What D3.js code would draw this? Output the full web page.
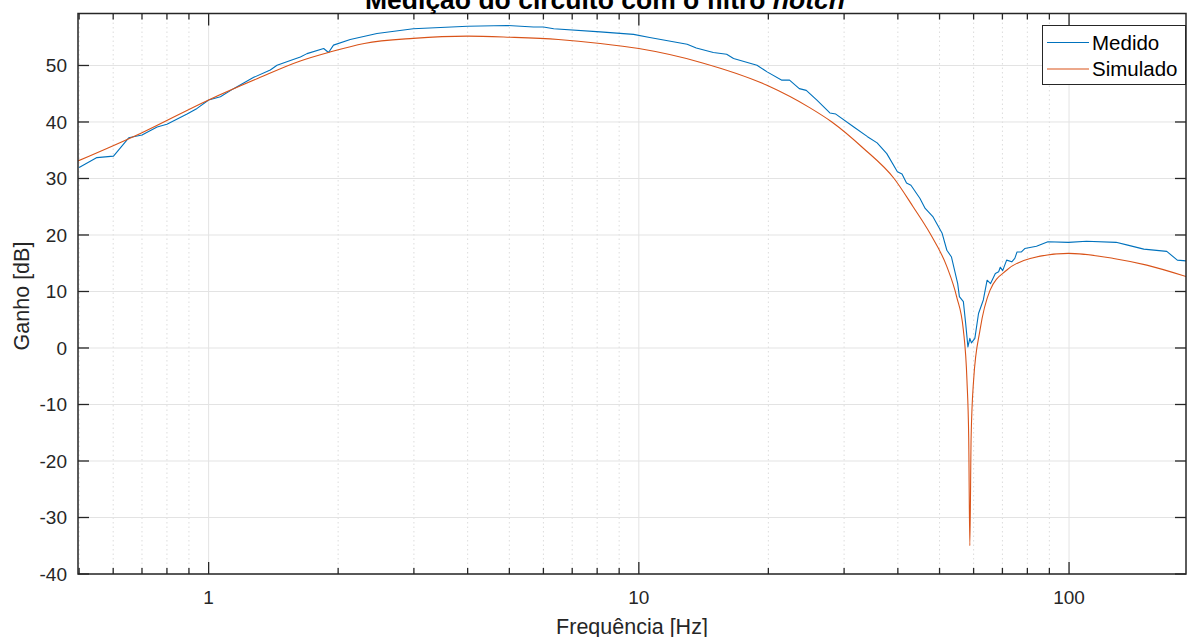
<!DOCTYPE html>
<html>
<head>
<meta charset="utf-8">
<script src="https://cdn.jsdelivr.net/npm/d3@7"></script>
<style>
  body { margin: 0; background: #fff; }
  svg { display: block; font-family: "Liberation Sans", Arial, sans-serif; }
</style>
</head>
<body>
<svg id="chart" width="1187" height="637"></svg>
<script>
// values
const medidoFreq = [0.5, 0.55, 0.601, 0.652, 0.7, 0.759, 0.8, 0.891, 0.94, 1.0, 1.065, 1.143, 1.273, 1.391, 1.442, 1.549, 1.634,
  1.693, 1.851, 1.9, 1.951, 2.134, 2.462, 2.99, 4.0, 4.94, 5.69, 6.0, 6.34, 8.13, 9.72, 10.6, 12.95, 13.6, 14.9, 16.0, 16.6,
  18.82, 19.87, 21.5, 22.4, 23.6, 24.5, 25.9, 27.8, 28.7, 31.6, 34.0, 35.8, 37.7, 39.9, 40.9, 41.9, 42.9, 45.0, 46.3, 48.3,
  50.7, 52.0, 53.3, 55.1, 55.6, 56.8, 57.5, 58.2, 58.8, 59.3, 60.4, 61.6, 63.2, 64.5, 65.7, 67.4, 68.6, 69.2, 70.1, 71.6,
  73.6, 74.8, 75.7, 77.5, 78.9, 84.0, 89.3, 99.7, 109.8, 128.6, 136.9, 149.2, 168.7, 178.5, 187.8];
const medidoDb = [31.95, 33.7, 33.95, 37.2, 37.7, 39.1, 39.6, 41.4, 42.4, 43.9, 44.45, 45.9, 47.9, 49.2, 50.05, 50.9, 51.5,
  52.1, 53.0, 52.3, 53.6, 54.6, 55.66, 56.5, 56.95, 57.08, 56.8, 56.8, 56.5, 55.95, 55.5, 54.95, 53.77, 53.1, 52.3, 52.0, 51.24,
  50.05, 48.87, 47.4, 47.4, 45.9, 45.6, 43.9, 41.6, 41.4, 39.1, 37.4, 36.3, 34.4, 31.2, 30.8, 29.2, 28.8, 26.5, 24.7, 23.2,
  20.3, 17.3, 16.1, 11.4, 9.1, 8.2, 4.35, 0.2, 1.7, 0.9, 1.7, 6.1, 8.5, 12.0, 11.4, 13.2, 13.5, 14.3, 13.7, 15.55,
  15.25, 15.85, 17.0, 17.0, 17.6, 18.0, 18.8, 18.7, 18.9, 18.7, 18.2, 17.5, 17.1, 15.55, 15.4];

const simuladoFreq = [0.497, 0.7, 1.0, 1.3, 1.633, 1.898, 2.3, 2.99, 4.0, 5.02, 6.5, 8.13, 10.0, 14.0, 19.85, 25.0, 28.1, 33.2,
  39.2, 43.4, 47.5, 52.0, 54.8, 56.8, 57.9, 58.45, 58.8, 59.2, 60.0, 62.1, 65.5, 71.7, 81.2, 99.7, 126.9, 151.6, 187.8];
const simuladoDb = [33.1, 38.1, 43.9, 47.7, 50.8, 52.3, 53.9, 54.8, 55.2, 55.0, 54.6, 53.9, 53.0, 50.5, 46.5, 42.5, 40.0, 35.4,
  30.0, 25.0, 20.3, 14.4, 9.06, 3.17, -5.7, -16.0, -35.0, -16.0, -5.7, 3.2, 10.2, 13.8, 15.85, 16.74, 15.85, 14.67, 12.6];

const seriesNames = ["Medido", "Simulado"];
const seriesColors = ["#0072BD", "#D95319"];
const yTicks = [-40, -30, -20, -10, 0, 10, 20, 30, 40, 50];
const xMajorTicks = [1, 10, 100];
const xMinorTicks = [0.5, 0.6, 0.7, 0.8, 0.9, 2, 3, 4, 5, 6, 7, 8, 9, 20, 30, 40, 50, 60, 70, 80, 90];

const svg = d3.select("#chart");
const pLeft = 78, pRight = 1186, pTop = 13.5, pBottom = 574;
const axisColor = "#262626";

const x = d3.scaleLog().domain([0.497, 187]).range([pLeft, pRight]);
const y = d3.scaleLinear().domain([-40, 59.2]).range([pBottom, pTop]);

// grid
const grid = svg.append("g");
grid.selectAll(".minor").data(xMinorTicks).enter().append("line")
  .attr("x1", d => x(d)).attr("x2", d => x(d)).attr("y1", pTop).attr("y2", pBottom)
  .attr("stroke", "#dcdcdc").attr("stroke-dasharray", "1.5,3").attr("stroke-width", 1);
grid.selectAll(".majx").data(xMajorTicks).enter().append("line")
  .attr("x1", d => x(d)).attr("x2", d => x(d)).attr("y1", pTop).attr("y2", pBottom)
  .attr("stroke", "#e3e3e3").attr("stroke-width", 1);
grid.selectAll(".majy").data(yTicks).enter().append("line")
  .attr("x1", pLeft).attr("x2", pRight).attr("y1", d => y(d)).attr("y2", d => y(d))
  .attr("stroke", "#e3e3e3").attr("stroke-width", 1);

// lines
svg.append("clipPath").attr("id", "clip").append("rect")
  .attr("x", pLeft).attr("y", pTop).attr("width", pRight - pLeft).attr("height", pBottom - pTop);

const medido = medidoFreq.map((f, i) => [f, medidoDb[i]]);
const simulado = simuladoFreq.map((f, i) => [f, simuladoDb[i]]);

const lineLin = d3.line().x(d => x(d[0])).y(d => y(d[1]));
const lineSmooth = d3.line().x(d => x(d[0])).y(d => y(d[1])).curve(d3.curveMonotoneX);

const plot = svg.append("g").attr("clip-path", "url(#clip)");
plot.append("path").datum(medido).attr("d", lineLin)
  .attr("fill", "none").attr("stroke", seriesColors[0]).attr("stroke-width", 1.1).attr("stroke-linejoin", "round");
plot.append("path").datum(simulado).attr("d", lineSmooth)
  .attr("fill", "none").attr("stroke", seriesColors[1]).attr("stroke-width", 1.1).attr("stroke-linejoin", "round");

// axes (MATLAB style: inward ticks, box)
const box = svg.append("g");
box.append("rect").attr("x", pLeft).attr("y", pTop).attr("width", pRight - pLeft).attr("height", pBottom - pTop)
  .attr("fill", "none").attr("stroke", axisColor).attr("stroke-width", 1.5);

const tickStyle = sel => sel.attr("stroke", axisColor).attr("stroke-width", 1.3);
xMajorTicks.forEach(d => {
  box.append("line").attr("x1", x(d)).attr("x2", x(d)).attr("y1", pBottom).attr("y2", pBottom - 12).call(tickStyle);
  box.append("line").attr("x1", x(d)).attr("x2", x(d)).attr("y1", pTop).attr("y2", pTop + 12).call(tickStyle);
});
xMinorTicks.forEach(d => {
  box.append("line").attr("x1", x(d)).attr("x2", x(d)).attr("y1", pBottom).attr("y2", pBottom - 6).call(tickStyle);
  box.append("line").attr("x1", x(d)).attr("x2", x(d)).attr("y1", pTop).attr("y2", pTop + 6).call(tickStyle);
});
yTicks.forEach(d => {
  box.append("line").attr("x1", pLeft).attr("x2", pLeft + 11).attr("y1", y(d)).attr("y2", y(d)).call(tickStyle);
  box.append("line").attr("x1", pRight).attr("x2", pRight - 11).attr("y1", y(d)).attr("y2", y(d)).call(tickStyle);
});

svg.append("g").selectAll("text").data(yTicks).enter().append("text")
  .attr("x", 67).attr("y", d => y(d)).attr("dy", "0.36em").attr("text-anchor", "end")
  .attr("font-size", 19).attr("fill", axisColor).text(d => d);
svg.append("g").selectAll("text").data(xMajorTicks).enter().append("text")
  .attr("x", d => x(d)).attr("y", 604).attr("text-anchor", "middle")
  .attr("font-size", 19).attr("fill", axisColor).text(d => d);

// labels
svg.append("text").attr("x", 632).attr("y", 634).attr("text-anchor", "middle")
  .attr("font-size", 21.5).attr("fill", axisColor).text("Frequência [Hz]");
svg.append("text").attr("transform", "translate(29,296) rotate(-90)").attr("text-anchor", "middle")
  .attr("font-size", 21.5).attr("fill", axisColor).text("Ganho [dB]");

const title = svg.append("text").attr("x", 605).attr("y", 8.5).attr("text-anchor", "middle")
  .attr("font-size", 26.5).attr("font-weight", "bold").attr("fill", "#000");
title.append("tspan").text("Medição do circuito com o filtro ");
title.append("tspan").attr("font-style", "italic").text("notch");

// legend
const legend = svg.append("g");
legend.append("rect").attr("x", 1042.5).attr("y", 25.5).attr("width", 143).attr("height", 59)
  .attr("fill", "#fff").attr("stroke", axisColor).attr("stroke-width", 1);
seriesNames.forEach((name, i) => {
  const ly = 42.5 + i * 26.5;
  legend.append("line").attr("x1", 1047).attr("x2", 1089).attr("y1", ly).attr("y2", ly)
    .attr("stroke", seriesColors[i]).attr("stroke-width", 1.1);
  legend.append("text").attr("x", 1092).attr("y", ly).attr("dy", "0.36em")
    .attr("font-size", 20.5).attr("fill", "#000").text(name);
});
</script>
</body>
</html>
